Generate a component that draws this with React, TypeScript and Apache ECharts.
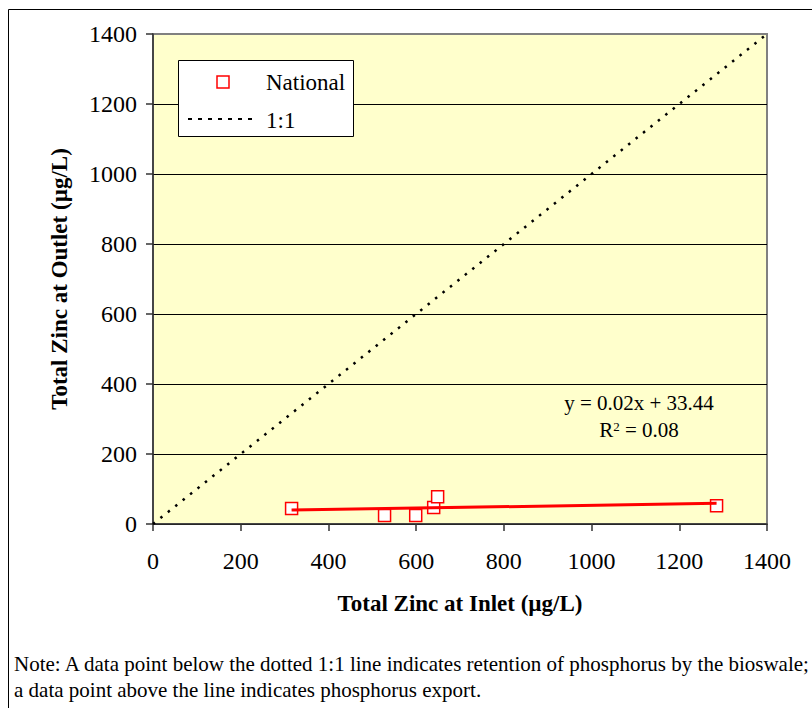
import React, { useEffect, useRef } from "react";
import * as echarts from "echarts";

// Paired event concentrations (µg/L)
const inletZinc: number[] = [316, 528, 599, 640, 649, 1285];
const outletZinc: number[] = [44, 24, 24, 47, 78, 52];

// Least-squares fit reported on the chart
const fitSlope = 0.02;
const fitIntercept = 33.44;
const fitR2 = 0.08;

const axisMin = 0;
const axisMax = 1400;
const axisStep = 200;

const seriesName = "National";
const parityName = "1:1";
const xTitle = "Total Zinc at Inlet (µg/L)";
const yTitle = "Total Zinc at Outlet (µg/L)";
const noteLines: string[] = [
  "Note: A data point below the dotted 1:1 line indicates retention of phosphorus by the bioswale;",
  "a data point above the line indicates phosphorus export.",
];

const SERIF = "'Liberation Serif', 'Times New Roman', serif";

export default function App() {
  const ref = useRef<HTMLDivElement>(null);

  useEffect(() => {
    if (!ref.current) return;
    const chart = echarts.init(ref.current, undefined, { renderer: "svg" });

    const points = inletZinc.map((x, i) => [x, outletZinc[i]]);
    const xLo = Math.min(...inletZinc);
    const xHi = Math.max(...inletZinc);
    const fitLine = [
      [xLo, fitIntercept + fitSlope * xLo],
      [xHi, fitIntercept + fitSlope * xHi],
    ];
    const parityLine = [
      [axisMin, axisMin],
      [axisMax, axisMax],
    ];

    const splitColors = [
      "#000", "#000", "#000", "#000", "#000", "#000", "#000", "#808080",
    ];

    const axisCommon = {
      type: "value" as const,
      min: axisMin,
      max: axisMax,
      interval: axisStep,
      nameLocation: "middle" as const,
      nameTextStyle: {
        fontFamily: SERIF,
        fontWeight: "bold" as const,
        fontSize: 23,
        color: "#000",
      },
      axisLine: { show: true, lineStyle: { color: "#333", width: 1.5 } },
      axisTick: { show: true, inside: false, length: 7, lineStyle: { color: "#333", width: 1.5 } },
      axisLabel: {
        fontFamily: SERIF,
        fontSize: 24,
        color: "#000",
        formatter: (v: number) => String(v),
      },
    };

    chart.setOption({
      animation: false,
      backgroundColor: "#fff",
      grid: {
        left: 153,
        right: 45,
        top: 34,
        bottom: 184,
        show: true,
        backgroundColor: "#FFFFCC",
        borderColor: "#808080",
        borderWidth: 2,
        containLabel: false,
        outerBoundsMode: "none",
      },
      xAxis: {
        ...axisCommon,
        name: xTitle,
        nameGap: 68,
        axisLabel: { ...axisCommon.axisLabel, margin: 25 },
        splitLine: { show: false },
      },
      yAxis: {
        ...axisCommon,
        name: yTitle,
        nameGap: 82,
        axisLabel: { ...axisCommon.axisLabel, margin: 16 },
        splitLine: { show: true, lineStyle: { color: splitColors, width: 1 } },
      },
      series: [
        {
          name: parityName,
          type: "line",
          data: parityLine,
          symbol: "none",
          lineStyle: { color: "#000", width: 2.5, type: [2.5, 7] },
          z: 2,
        },
        {
          name: seriesName,
          type: "scatter",
          data: points,
          symbol: "rect",
          symbolSize: 12,
          itemStyle: { color: "#fff", borderColor: "#FF0000", borderWidth: 1.5, opacity: 1 },
          z: 3,
        },
        {
          name: "Linear (" + seriesName + ")",
          type: "line",
          data: fitLine,
          symbol: "none",
          lineStyle: { color: "#FF0000", width: 3 },
          z: 4,
        },
      ],
      graphic: [
        // outer chart frame
        {
          type: "rect",
          shape: { x: 8.5, y: 9.5, width: 820, height: 720 },
          style: { fill: "none", stroke: "#000", lineWidth: 1 },
          silent: true,
        },
        // legend box
        {
          type: "rect",
          shape: { x: 178.5, y: 60.5, width: 175, height: 76 },
          style: { fill: "#fff", stroke: "#000", lineWidth: 1 },
          z: 10,
        },
        {
          type: "rect",
          shape: { x: 217, y: 76, width: 12, height: 12 },
          style: { fill: "#fff", stroke: "#FF0000", lineWidth: 1.5 },
          z: 11,
        },
        {
          type: "text",
          x: 266,
          y: 82,
          style: {
            text: seriesName,
            font: `23px ${SERIF}`,
            fill: "#000",
            verticalAlign: "middle",
            align: "left",
          },
          z: 11,
        },
        {
          type: "line",
          shape: { x1: 188, y1: 119, x2: 258, y2: 119 },
          style: { stroke: "#000", lineWidth: 2, lineDash: [4, 6] },
          z: 11,
        },
        {
          type: "text",
          x: 266,
          y: 120,
          style: {
            text: parityName,
            font: `23px ${SERIF}`,
            fill: "#000",
            verticalAlign: "middle",
            align: "left",
          },
          z: 11,
        },
        // regression annotation
        {
          type: "text",
          x: 639,
          y: 403,
          style: {
            text: `y = ${fitSlope.toFixed(2)}x + ${fitIntercept.toFixed(2)}`,
            font: `21px ${SERIF}`,
            fill: "#000",
            align: "center",
            verticalAlign: "middle",
          },
          z: 11,
        },
        {
          type: "text",
          x: 639,
          y: 430,
          style: {
            text: `R{sup|2} = ${fitR2.toFixed(2)}`,
            font: `21px ${SERIF}`,
            fill: "#000",
            align: "center",
            verticalAlign: "middle",
            rich: {
              sup: {
                font: `13px ${SERIF}`,
                fill: "#000",
                verticalAlign: "top",
                padding: [0, 0, 8, 0],
              },
            },
          },
          z: 11,
        },
        // footnote
        ...noteLines.map((line, i) => ({
          type: "text",
          x: 14,
          y: 664 + i * 26,
          style: {
            text: line,
            font: `21px ${SERIF}`,
            fill: "#000",
            align: "left",
            verticalAlign: "middle",
          },
        })),
      ],
    });

    return () => chart.dispose();
  }, []);

  return (
    <div
      ref={ref}
      style={{ position: "absolute", left: 0, top: 0, width: 812, height: 708 }}
    />
  );
}
